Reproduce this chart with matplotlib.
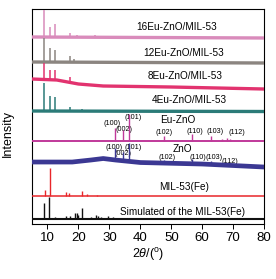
import numpy as np
import matplotlib.pyplot as plt

plt.rcParams['font.family'] = ['Liberation Sans', 'DejaVu Sans']
plt.rcParams['mathtext.fontset'] = 'custom'
plt.rcParams['mathtext.rm'] = 'Liberation Sans'
plt.rcParams['mathtext.it'] = 'Liberation Sans:italic'

# baselines: (2theta knots, intensity knots), offset units
base_16 = ([5, 80], [187, 186])
base_12 = ([5, 80], [162, 161])
base_8 = ([5, 13, 20, 28, 50, 80], [145, 144, 140, 138, 137, 135])
base_4 = ([5, 80], [113, 112.5])
base_euzno = ([5, 80], [83.5, 83.5])
base_zno = ([5, 18, 24, 28, 32, 40, 60, 80], [62, 62, 64, 65.5, 64, 61.5, 60, 57])
base_mil = ([5, 80], [28, 28])
base_sim = ([5, 80], [5, 5])

# peaks: positions (2theta) and heights above baseline
pk_16 = ([8.9, 10.8, 12.4, 17.3, 19.5, 25.5], [27, 10, 13, 4, 2, 2])
pk_12 = ([8.9, 10.8, 12.4, 17.3, 18.5], [24, 14, 12, 6, 3])
pk_8 = ([8.9, 10.8, 12.4, 17.3], [16, 9.5, 10, 5])
pk_4 = ([8.9, 10.8, 12.4, 17.3, 21.0], [28, 15, 14, 4, 2])
pk_euzno = ([31.8, 34.4, 36.3, 47.5, 56.6, 62.9, 66.4, 68.0, 69.1],
            [13, 11, 27, 5, 7, 5, 1.5, 3, 2])
pk_zno = ([31.8, 34.4, 36.3, 47.5, 56.6, 62.9, 68.0], [12, 9, 18.5, 3, 5, 3, 2])
pk_mil = ([9.2, 10.7, 15.9, 17.0, 21.1, 22.8, 26.0], [6, 28, 4, 3, 5, 2, 1.5])
pk_sim = ([8.9, 10.5, 12.5, 16.1, 17.4, 18.9, 19.4, 19.9, 21.3, 24.0, 25.7,
           26.3, 27.3, 29.6, 31.2, 33.5, 35.5],
          [16, 22, 2, 3, 3, 6, 6, 4, 11, 2, 4, 3, 2, 3, 2, 1.5, 1])

names = ['16Eu-ZnO/MIL-53', '12Eu-ZnO/MIL-53', '8Eu-ZnO/MIL-53', '4Eu-ZnO/MIL-53',
         'Eu-ZnO', 'ZnO', 'MIL-53(Fe)', 'Simulated of the MIL-53(Fe)']
hkl = ['(100)', '(002)', '(101)', '(102)', '(110)', '(103)', '(112)']

series = [
    (base_16, pk_16, '#d98bbb', 2.4, 1.1),
    (base_12, pk_12, '#8b8580', 2.4, 1.1),
    (base_8, pk_8, '#e2336f', 2.4, 1.1),
    (base_4, pk_4, '#2b7b78', 2.4, 1.1),
    (base_euzno, pk_euzno, '#c0399a', 1.4, 1.0),
    (base_zno, pk_zno, '#3b3893', 3.4, 1.0),
    (base_mil, pk_mil, '#e8262a', 1.1, 1.0),
    (base_sim, pk_sim, '#111111', 1.5, 1.0),
]

fig = plt.figure(figsize=(2.76, 2.79), dpi=100)
ax = fig.add_axes([0.116, 0.197, 0.841, 0.769])

for (bx, by), (px, ph), col, lw, plw in series:
    ax.plot(bx, by, color=col, lw=lw, solid_capstyle='butt', zorder=3)
    b = np.interp(px, bx, by)
    ax.vlines(px, b, b + np.array(ph), color=col, lw=plw, zorder=3)

# sample labels
name_pos = [(51.6, 197), (54.0, 171), (54.5, 148), (55.9, 124),
            (52.2, 104), (53.5, 75.5), (54.1, 37), (53.5, 12)]
for s, (x, y) in zip(names, name_pos):
    ax.text(x, y, s, fontsize=7.2, ha='center', va='center', zorder=2)

# hkl labels
euzno_pos = [(30.9, 101), (34.6, 95), (37.6, 107), (47.7, 92),
             (57.5, 93), (64.2, 93), (71.1, 92)]
zno_pos = [(31.6, 77), (34.4, 70.5), (37.8, 77), (48.6, 67),
           (58.5, 67), (63.8, 67), (68.9, 63)]
for s, (x, y) in zip(hkl, euzno_pos):
    ax.text(x, y, s, fontsize=5.2, ha='center', va='center', zorder=2)
for s, (x, y) in zip(hkl, zno_pos):
    ax.text(x, y, s, fontsize=5.2, ha='center', va='center', zorder=2)

ax.set_xlim(5, 80)
ax.set_ylim(0, 214.5)
ax.set_xticks([10, 20, 30, 40, 50, 60, 70, 80])
ax.set_yticks([])
ax.tick_params(axis='x', direction='out', length=3.5, width=0.7, labelsize=9.5, pad=2)
for sp in ax.spines.values():
    sp.set_linewidth(0.8)

ax.set_xlabel('2' + r'$\theta$' + '/(' + r'$^{\rm o}$' + ')', fontsize=9, labelpad=2)
ax.set_ylabel('Intensity', fontsize=9)
ax.yaxis.set_label_coords(-0.078, 0.424)

fig.savefig('out.png', dpi=100)
